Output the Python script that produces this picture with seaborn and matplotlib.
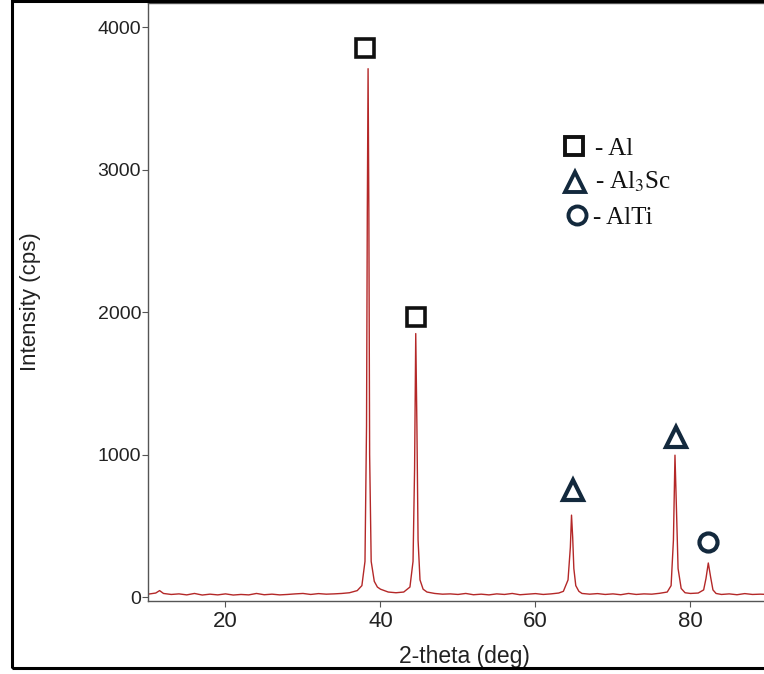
import matplotlib
matplotlib.use("Agg")
import matplotlib.pyplot as plt
import seaborn as sns
import pandas as pd
from matplotlib.patches import Rectangle

# XRD pattern (2-theta in deg, intensity in cps)
two_theta = [10.0, 11.0, 11.5, 12.0, 13.0, 14.0, 15.0, 16.0, 17.0, 18.0, 19.0,
             20.0, 21.0, 22.0, 23.0, 24.0, 25.0, 26.0, 27.0, 28.0, 29.0, 30.0,
             31.0, 32.0, 33.0, 34.0, 35.0, 36.0, 37.0, 37.6, 38.0, 38.2, 38.3,
             38.4, 38.5, 38.6, 38.8, 39.2, 39.6, 40.0, 40.5, 41.0, 42.0, 43.0,
             43.8, 44.2, 44.4, 44.55, 44.7, 44.85, 45.1, 45.5, 46.0, 47.0, 48.0,
             49.0, 50.0, 51.0, 52.0, 53.0, 54.0, 55.0, 56.0, 57.0, 58.0, 59.0,
             60.0, 61.0, 62.0, 63.0, 63.6, 64.2, 64.5, 64.65, 64.8, 64.95, 65.2,
             65.6, 66.0, 67.0, 68.0, 69.0, 70.0, 71.0, 72.0, 73.0, 74.0, 75.0,
             76.0, 77.0, 77.5, 77.8, 78.0, 78.15, 78.4, 78.8, 79.3, 80.0, 81.0,
             81.7, 82.0, 82.3, 82.6, 82.9, 83.3, 84.0, 85.0, 86.0, 87.0, 88.0,
             89.0, 90.0]
intensity = [20, 28, 45, 25, 18, 22, 15, 25, 14, 20, 15,
             22, 14, 18, 15, 25, 16, 20, 15, 18, 22, 25,
             18, 24, 20, 22, 25, 30, 45, 80, 250, 1200, 2700,
             3710, 2700, 1000, 250, 110, 70, 55, 45, 35, 30, 35,
             70, 250, 900, 1850, 1200, 400, 120, 55, 35, 25, 20,
             22, 18, 25, 16, 20, 15, 22, 18, 25, 16, 20,
             24, 18, 22, 28, 40, 120, 350, 575, 420, 200, 80,
             40, 25, 20, 24, 18, 22, 16, 25, 18, 22, 20,
             26, 35, 80, 400, 996, 700, 200, 60, 30, 25, 28,
             50, 130, 239, 140, 50, 25, 18, 22, 16, 24, 18,
             20, 18]

# phase markers above the peaks
al_x, al_y = [38.0, 44.6], [3855, 1965]
al3sc_x, al3sc_y = [64.8, 78.1], [750, 1125]
alti_x, alti_y = [82.3], [385]

legend_labels = ["- Al", "- Al$_\\mathrm{3}$Sc", "- AlTi"]

df = pd.DataFrame({"two_theta": two_theta, "intensity": intensity})

sns.set_style("ticks")
plt.rcParams["font.family"] = ["Liberation Sans", "DejaVu Sans"]
plt.rcParams["mathtext.fontset"] = "stix"

fig = plt.figure(figsize=(7.64, 6.74), dpi=100)
ax = fig.add_axes([0.1937, 0.1083, 0.8115, 0.887])

sns.lineplot(data=df, x="two_theta", y="intensity", ax=ax,
             color="#b42828", linewidth=1.0)

navy = "#13293d"
ax.plot(al_x, al_y, ls="none", marker="s", ms=12.5, mew=2.6,
        mfc="white", mec="#111111")
ax.plot(al3sc_x, al3sc_y, ls="none", marker="^", ms=15, mew=3.0,
        mfc="white", mec=navy)
ax.plot(alti_x, alti_y, ls="none", marker="o", ms=13, mew=3.0,
        mfc="white", mec=navy)

# legend drawn as markers + serif text
leg_marks = [("s", "#111111", 12.5, 0.687, 0.761),
             ("^", navy, 15, 0.689, 0.701),
             ("o", navy, 13, 0.692, 0.645)]
text_pos = [(0.721, 0.746), (0.721, 0.689), (0.717, 0.631)]
for (m, c, ms, mx, my), lab, (tx, ty) in zip(leg_marks, legend_labels, text_pos):
    ax.plot([mx], [my], transform=ax.transAxes, marker=m, ms=ms, mew=2.8,
            mfc="white", mec=c, ls="none", clip_on=False)
    ax.text(tx, ty, lab, transform=ax.transAxes, va="baseline", ha="left",
            fontsize=18, family=["Liberation Serif", "DejaVu Serif"],
            color="#111111")

ax.set_xlim(10, 90)
ax.set_ylim(-28, 4170)
ax.set_xticks([20, 40, 60, 80])
ax.set_yticks([0, 1000, 2000, 3000, 4000])

for s in ax.spines.values():
    s.set_color("#555555")
    s.set_linewidth(1.0)

ax.tick_params(axis="y", length=4, width=0.8, color="#555555",
               labelsize=14, labelcolor="#222222", pad=1)
ax.tick_params(axis="x", length=4, width=0.8, color="#555555",
               labelsize=16, labelcolor="#222222", pad=3)

ax.set_xlabel("2-theta (deg)", fontsize=16.5, color="#222222")
ax.set_ylabel("Intensity (cps)", fontsize=16, color="#222222")
ax.xaxis.set_label_coords(0.51, -0.073)
ax.yaxis.set_label_coords(-0.172, 0.5)

# outer black frame around the whole figure
fig.add_artist(Rectangle((12 / 764, 1 - 668 / 674), 1.0, 667 / 674,
                         transform=fig.transFigure, fill=False,
                         edgecolor="black", linewidth=2.2, clip_on=False))

fig.savefig("out.png", dpi=100)
